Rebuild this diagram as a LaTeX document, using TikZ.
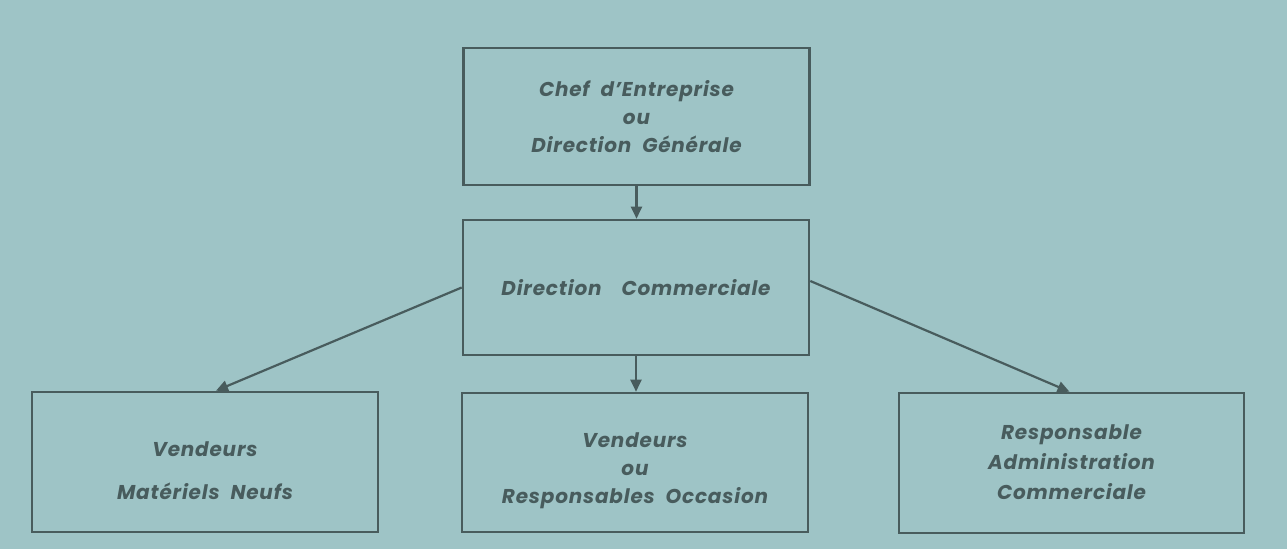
\documentclass[tikz,border=0pt]{standalone}
\usepackage{fontspec}
\setmainfont{Poppins}[LetterSpace=4]
\usetikzlibrary{arrows.meta}
\definecolor{paper}{RGB}{158,196,198}
\definecolor{ink}{RGB}{72,92,93}
\newcommand{\lowered}[2]{\raisebox{-#1}[\height][\depth]{\begin{tabular}{@{}c@{}}#2\end{tabular}}}
\tikzset{
  box/.style={draw=ink, line width=2.6pt, rectangle, minimum width=346pt, text=ink,
    font=\fontsize{20}{28}\selectfont\bfseries\itshape, align=center, inner sep=0pt},
  link/.style={draw=ink, line width=2.2pt, -{Triangle[length=12pt,width=11pt]}}
}
\begin{document}
\begin{tikzpicture}[x=1pt,y=-1pt]
\fill[paper] (0,0) rectangle (1287,549);
\useasboundingbox (0,0) rectangle (1287,549);
\node[box, minimum height=137pt] (top) at (636.5,116.5) {Chef\ \ d'Entreprise\\ou\\Direction\ \ Générale};
\node[box, minimum height=135pt] (mid) at (636,287.5) {Direction\quad Commerciale};
\node[box, minimum height=140pt] (bl) at (205,462) {\lowered{10pt}{Vendeurs\\[15pt]Matériels\ \ Neufs}};
\node[box, minimum height=139pt] (bm) at (635,462.5) {\lowered{7pt}{Vendeurs\\ou\\Responsables\ \ Occasion}};
\node[box, minimum width=345pt, minimum height=140pt] (br) at (1071.5,463) {\lowered{1pt}{Responsable\\[2pt]Administration\\[2pt]Commerciale}};
\draw[link] (top.south) -- (top.south |- mid.north);
\draw[link] (mid.south) -- (mid.south |- bm.north);
\draw[link] (mid.west) -- ([xshift=11pt]bl.north);
\draw[link] ([yshift=6.5pt]mid.east) -- ([xshift=-2pt]br.north);
\end{tikzpicture}
\end{document}
